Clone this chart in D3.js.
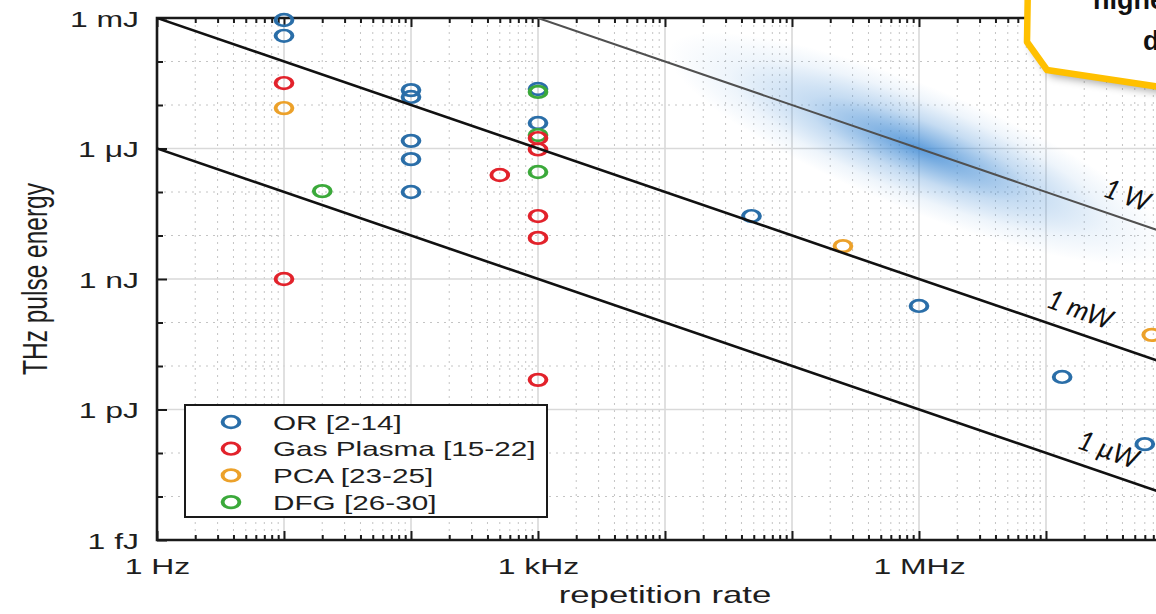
<!DOCTYPE html>
<html><head><meta charset="utf-8">
<script src="https://cdn.jsdelivr.net/npm/d3@7"></script>
<style>body{margin:0;background:#fff;} svg{display:block;}</style>
</head><body><svg id="c" width="1156" height="614"></svg>
<script>
// ---------- data ----------
const seriesNames  = ["OR [2-14]", "Gas Plasma [15-22]", "PCA [23-25]", "DFG [26-30]"];
const seriesColors = ["#2a6ea8", "#e2222b", "#eca12a", "#3ba93a"];

const orFreq     = [10, 10, 100, 100, 100, 100, 100, 1000, 1000, 4.8e4, 1e6, 1.34e7, 6e7];
const orEnergy   = [9e-4, 3.9e-4, 2.2e-5, 1.53e-5, 1.5e-6, 5.7e-7, 1e-7, 2.33e-5, 3.86e-6, 2.8e-8, 2.4e-10, 5.6e-12, 1.6e-13];
const gasFreq    = [10, 10, 500, 1000, 1000, 1000, 1000, 1000];
const gasEnergy  = [3.2e-5, 1e-9, 2.46e-7, 1.74e-6, 9.5e-7, 2.8e-8, 8.8e-9, 4.8e-12];
const pcaFreq    = [10, 2.52e5, 6.8e7];
const pcaEnergy  = [8.5e-6, 5.7e-9, 5.2e-11];
const dfgFreq    = [20, 1000, 1000, 1000];
const dfgEnergy  = [1.05e-7, 2e-5, 2.04e-6, 2.88e-7];

const powerLevels = [1, 1e-3, 1e-6];          // W
const powerLabels = ["1 W", "1 mW", "1 μW"];

const xTickValues = [1, 1e3, 1e6];
const xTickLabels = ["1 Hz", "1 kHz", "1 MHz"];
const yTickValues = [1e-3, 1e-6, 1e-9, 1e-12, 1e-15];
const yTickLabels = ["1 mJ", "1 μJ", "1 nJ", "1 pJ", "1 fJ"];

const xTitle = "repetition rate";
const yTitle = "THz pulse energy";
const calloutLines = ["higher", "data"];

// ---------- layout ----------
const L = 157, R = 1173, T = 18, B = 540;
const SX = 1.45; // horizontal stretch of the original figure
const svg = d3.select("#c");
const x = d3.scaleLog().domain([1, 1e8]).range([L, R]);
const y = d3.scaleLog().domain([1e-15, 1e-3]).range([B, T]);
const FONT = "'Liberation Sans', Arial, sans-serif";
const TXT = "#1e1e1e";

const xDec = d3.range(0, 9).map(i => Math.pow(10, i));
const xMinor = [];
for (let i = 0; i < 8; i++) for (let k = 2; k <= 9; k++) xMinor.push(k * Math.pow(10, i));
const yExp = d3.range(-15, -2);
const yDecAll = yExp.map(e => Math.pow(10, e));
const yMajor = yDecAll.filter((d, i) => yExp[i] % 3 === 0);
const yMinor = yDecAll.filter((d, i) => yExp[i] % 3 !== 0);

const defs = svg.append("defs");
defs.append("clipPath").attr("id", "plotclip").append("rect")
  .attr("x", L).attr("y", T).attr("width", R - L).attr("height", B - T);
const rg = defs.append("radialGradient").attr("id", "glow");
[[0, 0.85], [0.18, 0.62], [0.45, 0.3], [0.75, 0.09], [1, 0]].forEach(([o, a]) =>
  rg.append("stop").attr("offset", o).attr("stop-color", "#3f8ad4").attr("stop-opacity", a));
const sh = defs.append("filter").attr("id", "shadow").attr("x", "-20%").attr("y", "-20%").attr("width", "140%").attr("height", "160%");
sh.append("feGaussianBlur").attr("stdDeviation", 4);

const plot = svg.append("g").attr("clip-path", "url(#plotclip)");

// grid
const grid = plot.append("g");
grid.selectAll(".vmin").data(xMinor).join("line")
  .attr("x1", d => x(d)).attr("x2", d => x(d)).attr("y1", T).attr("y2", B)
  .attr("stroke", "#c4c4c4").attr("stroke-width", 1).attr("stroke-dasharray", "2,5");
grid.selectAll(".hmin").data(yMinor).join("line")
  .attr("y1", d => y(d)).attr("y2", d => y(d)).attr("x1", L).attr("x2", R)
  .attr("stroke", "#c4c4c4").attr("stroke-width", 1).attr("stroke-dasharray", "2,5");
grid.selectAll(".vmaj").data(xDec).join("line")
  .attr("x1", d => x(d)).attr("x2", d => x(d)).attr("y1", T).attr("y2", B)
  .attr("stroke", "#d9d9d9").attr("stroke-width", 1.6);
grid.selectAll(".hmaj").data(yMajor).join("line")
  .attr("y1", d => y(d)).attr("y2", d => y(d)).attr("x1", L).attr("x2", R)
  .attr("stroke", "#d9d9d9").attr("stroke-width", 1.6);

// glow along 1 W line
const gcx = x(1e6), gcy = y(1e-6);
plot.append("ellipse").attr("cx", gcx).attr("cy", gcy).attr("rx", 270).attr("ry", 62)
  .attr("transform", `rotate(22,${gcx},${gcy})`).attr("fill", "url(#glow)");

// axes (box + ticks)
const axG = svg.append("g");
function styleAxis(g) {
  g.select(".domain").remove();
  g.selectAll(".tick line").attr("stroke", "#1a1a1a").attr("stroke-width", 2);
}
axG.append("g").attr("transform", `translate(0,${B})`)
  .call(d3.axisBottom(x).tickValues(xMinor).tickSize(-5).tickFormat(""))
  .call(styleAxis).selectAll("text").remove();
axG.append("g").attr("transform", `translate(0,${T})`)
  .call(d3.axisTop(x).tickValues(xMinor).tickSize(-5).tickFormat(""))
  .call(styleAxis).selectAll("text").remove();
axG.append("g").attr("transform", `translate(0,${T})`)
  .call(d3.axisTop(x).tickValues(xDec).tickSize(-9).tickFormat(""))
  .call(styleAxis).selectAll("text").remove();
const xLabelOf = d => { const k = xTickValues.findIndex(v => Math.abs(Math.log10(v) - Math.log10(d)) < 1e-6); return k >= 0 ? xTickLabels[k] : ""; };
const gxb = axG.append("g").attr("transform", `translate(0,${B})`)
  .call(d3.axisBottom(x).tickValues(xDec).tickSize(-9).tickFormat(xLabelOf))
  .call(styleAxis);
gxb.selectAll("text").attr("y", null).attr("dy", null)
  .attr("transform", `translate(0,34) scale(${SX},1)`)
  .attr("font-family", FONT).attr("font-size", 22).attr("fill", TXT).attr("text-anchor", "middle");

axG.append("g").attr("transform", `translate(${L},0)`)
  .call(d3.axisLeft(y).tickValues(yMinor).tickSize(-6).tickFormat(""))
  .call(styleAxis).selectAll("text").remove();
const yLabelOf = d => { const k = yTickValues.findIndex(v => Math.abs(Math.log10(v) - Math.log10(d)) < 1e-6); return k >= 0 ? yTickLabels[k] : ""; };
const gyl = axG.append("g").attr("transform", `translate(${L},0)`)
  .call(d3.axisLeft(y).tickValues(yMajor).tickSize(-10).tickFormat(yLabelOf))
  .call(styleAxis);
gyl.selectAll("text").attr("x", null).attr("dy", null)
  .attr("transform", `translate(-18,8) scale(${SX},1)`)
  .attr("font-family", FONT).attr("font-size", 22).attr("fill", TXT).attr("text-anchor", "end");

// box lines
axG.append("path")
  .attr("d", `M${R},${T}H${L}V${B}H${R}`)
  .attr("fill", "none").attr("stroke", "#1a1a1a").attr("stroke-width", 2.6);

// data points (drawn over the box, like the original)
const series = [
  {f: orFreq, e: orEnergy, c: seriesColors[0]},
  {f: dfgFreq, e: dfgEnergy, c: seriesColors[3]},
  {f: gasFreq, e: gasEnergy, c: seriesColors[1]},
  {f: pcaFreq, e: pcaEnergy, c: seriesColors[2]},
];
series.forEach(s => {
  svg.append("g").selectAll("circle").data(s.f.map((f, i) => [f, s.e[i]])).join("circle")
    .attr("transform", d => `translate(${x(d[0])},${y(d[1])}) scale(${SX},1)`)
    .attr("r", 5.8).attr("fill", "none").attr("stroke", s.c).attr("stroke-width", 2.7);
});

// power lines
const lineG = svg.append("g").attr("clip-path", "url(#plotclip)");
const lineColors = ["#505050", "#111", "#111"];
const lineWidths = [2, 2.6, 2.6];
powerLevels.forEach((P, i) => {
  const f0 = Math.max(1, P / 1e-3), f1 = 1e8;
  lineG.append("line")
    .attr("x1", x(f0)).attr("y1", y(P / f0)).attr("x2", x(f1)).attr("y2", y(P / f1))
    .attr("stroke", lineColors[i]).attr("stroke-width", lineWidths[i]);
});

// axis titles
svg.append("text").attr("transform", `translate(${(L + R) / 2},603) scale(${SX},1)`)
  .attr("text-anchor", "middle").attr("font-family", FONT).attr("font-size", 24).attr("fill", TXT).text(xTitle);
svg.append("text").attr("transform", `translate(47,${(T + B) / 2}) scale(${SX},1) rotate(-90)`)
  .attr("text-anchor", "middle").attr("font-family", FONT).attr("font-size", 24.5).attr("fill", TXT).text(yTitle);

// power labels
const labelFreqs = [4.35e7, 1.85e7, 3.1e7];
const ang = Math.atan((y(1e-9) - y(1e-6)) / (x(1e3) - x(1))) * 180 / Math.PI + 1.5;
powerLevels.forEach((P, i) => {
  const f = labelFreqs[i];
  const cx = x(f), cy = y(P / f) - 25;
  svg.append("text").attr("transform", `translate(${cx},${cy}) rotate(${ang})`)
    .attr("text-anchor", "middle").attr("dy", "0.36em")
    .attr("font-family", "Lato, 'Open Sans', sans-serif").attr("font-style", "italic")
    .attr("font-size", 27).attr("fill", "#111").text(powerLabels[i]);
});

// legend
const lg = svg.append("g");
lg.append("rect").attr("x", 185).attr("y", 405).attr("width", 362).attr("height", 112)
  .attr("fill", "#fff").attr("stroke", "#1a1a1a").attr("stroke-width", 2);
seriesNames.forEach((n, i) => {
  const cy = 422 + i * 26.7;
  lg.append("circle").attr("transform", `translate(231,${cy}) scale(${SX},1)`)
    .attr("r", 5.8).attr("fill", "none").attr("stroke", seriesColors[i]).attr("stroke-width", 2.7);
  lg.append("text").attr("transform", `translate(273,${cy + 7.5}) scale(${SX},1)`)
    .attr("font-family", FONT).attr("font-size", 20.5).attr("fill", TXT).text(n);
});

// callout (cropped by the picture edge, as in the original)
const pts = [[1028, -20], [1027, 42], [1047, 70], [1220, 96], [1220, -20]];
const poly = "M" + pts.map(p => p.join(",")).join("L") + "Z";
svg.append("path").attr("d", poly).attr("transform", "translate(4,6)")
  .attr("fill", "#000").attr("opacity", 0.35).attr("filter", "url(#shadow)");
svg.append("path").attr("d", poly).attr("fill", "#fff")
  .attr("stroke", "#ffc000").attr("stroke-width", 6.5).attr("stroke-linejoin", "round");
svg.append("text").attr("x", 1093).attr("y", 9).attr("font-family", FONT).attr("font-weight", "bold")
  .attr("font-size", 27).attr("fill", "#111").text(calloutLines[0]);
svg.append("text").attr("x", 1143).attr("y", 50).attr("font-family", FONT).attr("font-weight", "bold")
  .attr("font-size", 27).attr("fill", "#111").text(calloutLines[1]);
</script></body></html>
